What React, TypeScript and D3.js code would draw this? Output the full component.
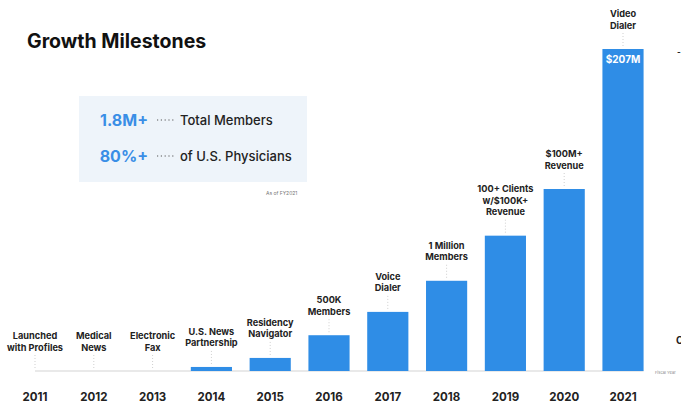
import React from "react";
import * as d3 from "d3";

const years = ["2011", "2012", "2013", "2014", "2015", "2016", "2017", "2018", "2019", "2020", "2021"];
const values = [0, 0, 0, 2.6, 8.4, 23, 38, 58, 87, 117, 207];
const milestones: string[][] = [
  ["Launched", "with Profiles"],
  ["Medical", "News"],
  ["Electronic", "Fax"],
  ["U.S. News", "Partnership"],
  ["Residency", "Navigator"],
  ["500K", "Members"],
  ["Voice", "Dialer"],
  ["1 Million", "Members"],
  ["100+ Clients", "w/$100K+", "Revenue"],
  ["$100M+", "Revenue"],
  ["Video", "Dialer"],
];
const lastLabel = "$207M";
const statValues = ["1.8M+", "80%+"];
const statTexts = ["Total Members", "of U.S. Physicians"];

const W = 681;
const H = 403;
const FONT = "Inter, 'Open Sans', sans-serif";
const BLUE = "#2f8de6";

export default function App() {
  const x = d3
    .scaleBand<string>()
    .domain(years)
    .range([5.6, 652.4])
    .paddingInner(0.3)
    .paddingOuter(0.15);
  const y = d3.scaleLinear().domain([0, 207]).range([371, 49]);
  const y0 = y(0);
  const bw = x.bandwidth();

  return (
    <svg
      width={W}
      height={H}
      style={{ position: "absolute", left: 0, top: 0, background: "#fff" }}
      fontFamily={FONT}
    >
      <rect x={0} y={0} width={W} height={H} fill="#fff" />
      <text x={27} y={47.5} fontSize={19.5} fontWeight={700} fill="#111">
        Growth Milestones
      </text>

      {/* info box */}
      <rect x={79} y={96} width={228} height={86} fill="#eef4fa" />
      {statValues.map((v, i) => {
        const cy = 120 + i * 36;
        return (
          <g key={v}>
            <text x={148} y={cy + 5.5} textAnchor="end" fontSize={16} fontWeight={700} fill="#3a8ee6">
              {v}
            </text>
            <line x1={157} x2={174} y1={cy} y2={cy} stroke="#555" strokeWidth={1} strokeDasharray="1.2,2.6" />
            <text x={180} y={cy + 4.5} fontSize={13} fontWeight={500} fill="#222">
              {statTexts[i]}
            </text>
          </g>
        );
      })}
      <text x={266} y={195} fontSize={5} fill="#777">
        As of FY2021
      </text>

      {/* baseline */}
      <line
        x1={(x(years[0]) ?? 0) + bw / 2}
        x2={(x(years[years.length - 1]) ?? 0) + bw}
        y1={y0}
        y2={y0}
        stroke="#e2e2e2"
        strokeWidth={1.5}
      />

      {years.map((yr, i) => {
        const bx = x(yr) ?? 0;
        const cx = bx + bw / 2;
        const top = y(values[i]);
        const lines = milestones[i];
        const lastY = top - 24;
        return (
          <g key={yr}>
            {values[i] > 0 && (
              <rect x={bx} y={top} width={bw} height={y0 - top} fill={BLUE} />
            )}
            <line
              x1={cx}
              x2={cx}
              y1={top - 16}
              y2={top - 3}
              stroke="#cfcfcf"
              strokeWidth={1}
              strokeDasharray="1,2"
            />
            {lines.map((l, j) => (
              <text
                key={j}
                x={cx}
                y={lastY - (lines.length - 1 - j) * 11.5 + 3.5}
                textAnchor="middle"
                fontSize={9.2}
                fontWeight={700}
                fill="#222"
              >
                {l}
              </text>
            ))}
            <text x={cx} y={401} textAnchor="middle" fontSize={11.5} fontWeight={700} fill="#222">
              {yr}
            </text>
          </g>
        );
      })}

      <text
        x={(x(years[years.length - 1]) ?? 0) + bw / 2}
        y={y(207) + 14}
        textAnchor="middle"
        fontSize={10}
        fontWeight={700}
        fill="#fff"
      >
        {lastLabel}
      </text>

      {/* cropped slide edge fragments */}
      <text x={655} y={374} fontSize={4} fill="#888">
        Fiscal Year
      </text>
      <text x={677} y={55} fontSize={8} fontWeight={700} fill="#222">
        -
      </text>
      <text x={676} y={344} fontSize={10} fontWeight={700} fill="#222">
        C
      </text>
    </svg>
  );
}
